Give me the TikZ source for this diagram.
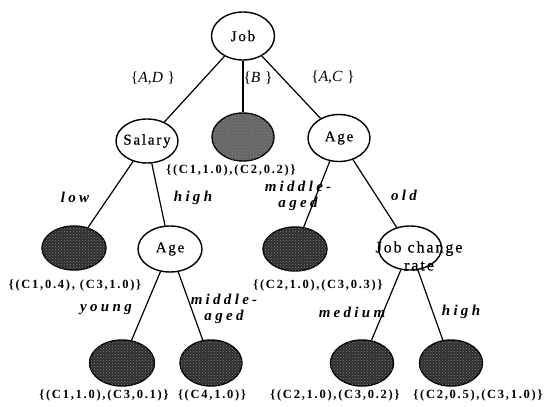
\documentclass[tikz,border=0pt]{standalone}
\usepackage{fontspec}
\setmainfont{Liberation Serif}
\newfontfamily\nodefont[LetterSpace=12,FakeBold=0.5]{Liberation Serif}
\newfontfamily\lblfont[LetterSpace=14]{Liberation Serif}
\newfontfamily\edgefont[LetterSpace=22]{Liberation Serif}
\newfontfamily\setfont[LetterSpace=30]{Liberation Serif}
\usetikzlibrary{shapes.geometric,patterns}
\begin{document}
\begin{tikzpicture}[x=1pt,y=-1pt,
  inode/.style={draw, ellipse, line width=1.4pt, fill=white, inner sep=0pt,
    minimum width=63pt, minimum height=46pt},
  leaf/.style={draw, ellipse, line width=1.4pt, inner sep=0pt,
    minimum width=63pt, minimum height=46pt, fill=black!82,
    postaction={pattern=crosshatch dots, pattern color=black!50}},
  ntext/.style={font=\nodefont\fontsize{15}{17}\selectfont, inner sep=0pt},
  lbl/.style={font=\lblfont\fontsize{12.5}{14}\selectfont\bfseries, inner sep=0pt},
  elbl/.style={font=\edgefont\fontsize{15}{17}\selectfont\itshape\bfseries, inner sep=0pt, align=center},
  slbl/.style={font=\setfont\fontsize{15.5}{17}\selectfont, inner sep=0pt},
  edge/.style={line width=1.2pt}]
\useasboundingbox (0,0) rectangle (544,407);
\fill[white] (0,0) rectangle (544,407);

% internal nodes
\node[inode, minimum height=48pt, label={[ntext]center:Job}] (job) at (243,36) {};
\node[inode, minimum width=62pt, minimum height=44pt, label={[ntext]center:Salary}] (salary) at (147,141) {};
\node[inode, minimum width=62pt, minimum height=47pt, label={[ntext]center:Age}] (ageR) at (339,138) {};
\node[inode, minimum width=64pt, label={[ntext]center:Age}] (ageL) at (170,249) {};
\node[inode, minimum height=44pt] (jcr) at (410,248) {};
\node[ntext, align=center, font=\nodefont\fontsize{16}{18}\selectfont] (jcrtext) at (419,256) {Job change\\rate};

% leaves
\node[leaf, minimum width=62pt, minimum height=48pt, fill=black!60] (bleaf) at (243,137) {};
\node[leaf, minimum width=64pt, minimum height=44pt] (lowleaf) at (74,248) {};
\node[leaf, minimum width=64pt, minimum height=44pt] (midR) at (295,249) {};
\node[leaf, minimum width=65pt] (young) at (122,363) {};
\node[leaf, minimum width=62pt] (midL) at (211,363) {};
\node[leaf] (medium) at (362,363) {};
\node[leaf] (highleaf) at (451,363) {};

% edges
\draw[edge] (job) -- (salary);
\draw[edge] (job) -- (bleaf);
\draw[edge] (job) -- (ageR);
\draw[edge] (salary) -- (lowleaf);
\draw[edge] (salary) -- (ageL);
\draw[edge] (ageR) -- (midR);
\draw[edge] (ageR) -- (jcr);
\draw[edge] (ageL) -- (young);
\draw[edge] (ageL) -- (midL);
\draw[edge] (jcr) -- (medium);
\draw[edge] (jcr) -- (highleaf);

% edge labels
\node[slbl] (eAD) at (153,78) {\{\textit{A},\textit{D}\}};
\node[slbl] (eB) at (258,78) {\{\textit{B}\}};
\node[slbl] (eAC) at (333,77) {\{\textit{A},\textit{C}\}};
\node[elbl] (elow) at (75,197) {low};
\node[elbl] (ehigh1) at (193,198) {high};
\node[elbl] (emid1) at (298,196) {middle-\\[-1pt]aged};
\node[elbl] (eold) at (404,195) {old};
\node[elbl] (eyoung) at (106,310) {young};
\node[elbl] (emid2) at (224,309) {middle-\\[-1pt]aged};
\node[elbl] (emedium) at (352,312) {medium};
\node[elbl] (ehigh2) at (461,312) {high};

% leaf labels
\node[lbl] (l1) at (231,170) {\{(C1,1.0),(C2,0.2)\}};
\node[lbl] (l2) at (75,285) {\{(C1,0.4), (C3,1.0)\}};
\node[lbl] (l3) at (318,285) {\{(C2,1.0),(C3,0.3)\}};
\node[lbl] (l4) at (104,395) {\{(C1,1.0),(C3,0.1)\}};
\node[lbl] (l5) at (212,395) {\{(C4,1.0)\}};
\node[lbl] (l6) at (335,395) {\{(C2,1.0),(C3,0.2)\}};
\node[lbl] (l7) at (478,395) {\{(C2,0.5),(C3,1.0)\}};
\end{tikzpicture}
\end{document}
